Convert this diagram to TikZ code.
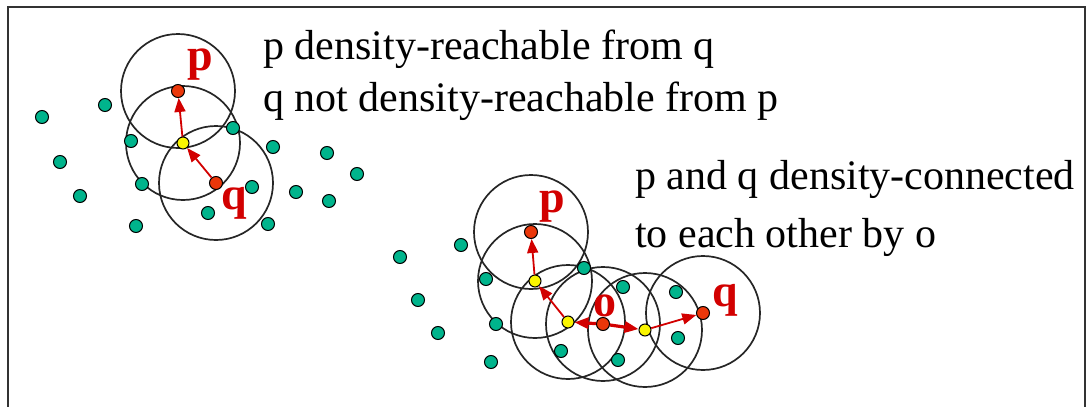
\documentclass[tikz,border=0pt]{standalone}
\usepackage{fontspec}
\setmainfont{Liberation Serif}
\usetikzlibrary{arrows.meta,backgrounds}
\definecolor{noisegreen}{RGB}{0,180,140}
\definecolor{corered}{RGB}{235,55,10}
\definecolor{edgeyellow}{RGB}{250,245,0}
\definecolor{lblred}{RGB}{210,0,0}
\tikzset{
  dotpt/.style={circle,draw=black,line width=1pt,inner sep=0pt,minimum size=13pt},
  noise/.style={dotpt,fill=noisegreen},
  corept/.style={dotpt,fill=corered},
  edgept/.style={dotpt,fill=edgeyellow,minimum size=12pt},
  eps/.style={black!85,line width=1.7pt},
  reach/.style={-{Triangle[length=14pt,width=11pt]},lblred,line width=1.8pt},
  lbl/.style={text=lblred,font=\fontsize{46}{46}\selectfont\bfseries,inner sep=0pt},
  txt/.style={font=\fontsize{42}{44}\selectfont,inner sep=0pt,anchor=base west}
}

\begin{document}
\begin{tikzpicture}[x=1pt,y=-1pt]
  \useasboundingbox (0,0) rectangle (1088,407);
  \draw[line width=2pt,black!80] (8,407) -- (8,7) -- (1085,7) -- (1085,407);

  % left group: p reachable from q
  \foreach \x/\y [count=\i] in {42/117,105/105,131/141,233/128,273/147,327/153,357/174,60/162,
      80/196,142/184,252/187,296/192,329/201,208/213,136/226,268/224}
    \node[noise] (n\i) at (\x,\y) {};
  \node[corept] (p1) at (178,91) {};
  \node[edgept] (b1) at (183,143) {};
  \node[corept] (q1) at (216,183) {};
  \node[lbl] (lp1) at (200,65) {p};
  \node[lbl] (lq1) at (234,203) {q};
  \draw[reach] (q1) -- (b1);
  \draw[reach] (b1) -- (p1);

  % right group: p and q connected by o
  \foreach \x/\y [count=\i] in {400/257,461/245,418/300,438/333,486/279,584/268,496/324,
      491/362,623/287,561/351,618/360,676/292,678/338}
    \node[noise] (m\i) at (\x,\y) {};
  \node[corept] (p2) at (531,232) {};
  \node[edgept] (b2) at (535,281) {};
  \node[edgept] (b3) at (568,322) {};
  \node[corept] (o) at (603,324) {};
  \node[edgept] (b4) at (645,330) {};
  \node[corept] (q2) at (703,313) {};
  \node[lbl] (lp2) at (552,207) {p};
  \node[lbl] (lo) at (605,306) {o};
  \node[lbl] (lq2) at (725,300) {q};
  \draw[reach] (b2) -- (p2);
  \draw[reach] (b3) -- (b2);
  \draw[reach,line width=3.2pt] (o) -- (b3);
  \draw[reach,line width=3.2pt] (o) -- (b4);
  \draw[reach] (b4) -- (q2);

  \begin{scope}[on background layer]
    \foreach \c in {p1,b1,q1,p2,b2,b3,o,b4,q2}
      \draw[eps] (\c) circle[radius=57pt];
  \end{scope}

  \node[txt] (t1) at (263,59) {p density-reachable from q};
  \node[txt] (t2) at (263,111) {q not density-reachable from p};
  \node[txt] (t3) at (635,189) {p and q density-connected};
  \node[txt] (t4) at (635,247) {to each other by o};
\end{tikzpicture}
\end{document}
